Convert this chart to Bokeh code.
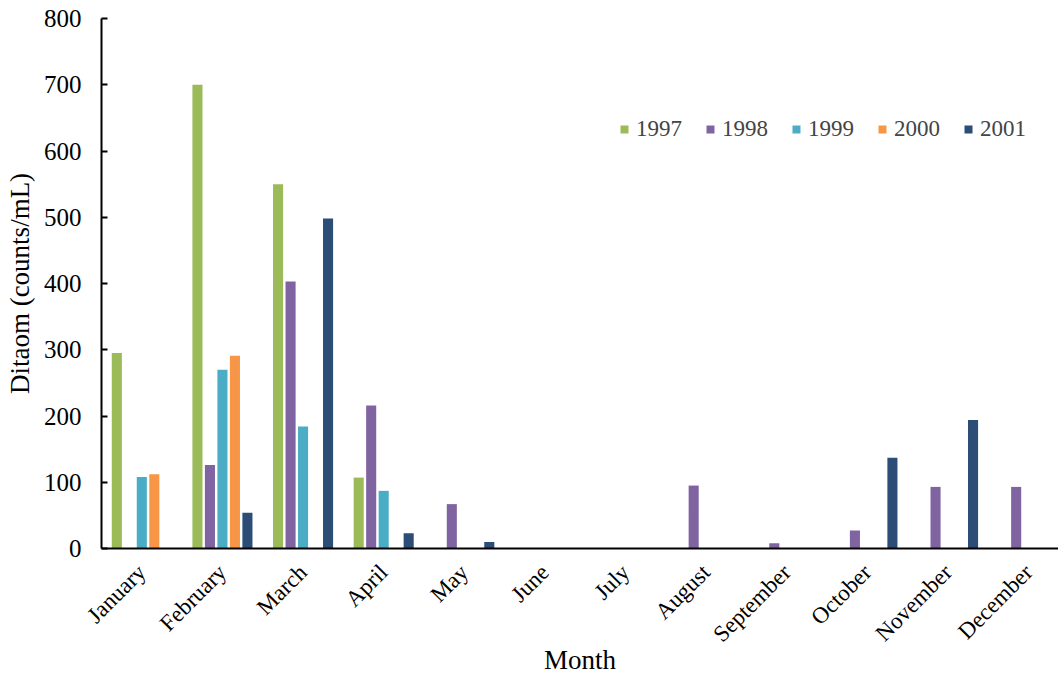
import numpy as np
from math import pi
from bokeh.plotting import figure
from bokeh.models import Range1d, FixedTicker, Legend, LegendItem
from bokeh.embed import file_html
from bokeh.resources import INLINE

months = ["January", "February", "March", "April", "May", "June", "July",
          "August", "September", "October", "November", "December"]
years = ["1997", "1998", "1999", "2000", "2001"]
v1997 = [295, 700, 550, 107, 0, 0, 0, 0, 0, 0, 0, 0]
v1998 = [0, 126, 403, 216, 67, 0, 0, 95, 8, 27, 93, 93]
v1999 = [108, 270, 184, 87, 0, 0, 0, 0, 0, 0, 0, 0]
v2000 = [112, 291, 0, 0, 0, 0, 0, 0, 0, 0, 0, 0]
v2001 = [0, 54, 498, 23, 10, 0, 0, 0, 0, 137, 194, 0]
series = [v1997, v1998, v1999, v2000, v2001]
colors = ["#9BBB59", "#8064A2", "#4BACC6", "#F79646", "#2C4D75"]
y_ticks = [0, 100, 200, 300, 400, 500, 600, 700, 800]

FONT = "Liberation Serif"

p = figure(width=1058, height=677, output_backend="svg", toolbar_location=None,
           x_range=Range1d(0, 11.87), y_range=Range1d(0, 800),
           min_border_left=101, min_border_top=18, min_border_bottom=128,
           min_border_right=0)
p.outline_line_color = None
p.xgrid.visible = False
p.ygrid.visible = False

centers = np.arange(len(months)) + 0.5
offsets = [-0.31, -0.155, 0.0, 0.155, 0.31]
items = []
for yr, vals, col, off in zip(years, series, colors, offsets):
    r = p.vbar(x=centers + off, top=vals, width=0.125, bottom=0,
               fill_color=col, line_color=None)
    items.append(LegendItem(label=yr, renderers=[r]))

legend = Legend(items=items, orientation="horizontal", location=(518, 406),
                border_line_color=None, background_fill_alpha=0,
                label_text_font=FONT, label_text_font_size="23px",
                glyph_width=10, glyph_height=10, label_standoff=7,
                spacing=23, padding=0, margin=0)
p.add_layout(legend)

# x axis
xa = p.xaxis[0]
xa.ticker = FixedTicker(ticks=list(centers))
xa.major_label_overrides = {float(c): m for c, m in zip(centers, months)}
xa.major_label_orientation = pi / 4
xa.major_tick_in = 0
xa.major_tick_out = 0
xa.minor_tick_line_color = None
xa.axis_line_color = "black"
xa.axis_line_width = 2
xa.major_label_text_font = FONT
xa.major_label_text_font_size = "23px"
xa.major_label_text_color = "black"
xa.major_label_standoff = 20
xa.axis_label = "Month"
xa.axis_label_text_font = FONT
xa.axis_label_text_font_size = "27px"
xa.axis_label_text_font_style = "normal"
xa.axis_label_text_color = "black"
xa.axis_label_standoff = -14

# y axis
ya = p.yaxis[0]
ya.ticker = FixedTicker(ticks=y_ticks)
ya.major_tick_in = 6
ya.major_tick_out = 0
ya.major_tick_line_width = 2
ya.major_tick_line_color = "black"
ya.minor_tick_line_color = None
ya.axis_line_color = "black"
ya.axis_line_width = 2
ya.major_label_text_font = FONT
ya.major_label_text_font_size = "25px"
ya.major_label_text_color = "black"
ya.major_label_standoff = 20
ya.axis_label = "Ditaom (counts/mL)"
ya.axis_label_text_font = FONT
ya.axis_label_text_font_size = "27px"
ya.axis_label_text_font_style = "normal"
ya.axis_label_text_color = "black"
ya.axis_label_standoff = 6

open("out.html", "w").write(file_html(p, INLINE))
